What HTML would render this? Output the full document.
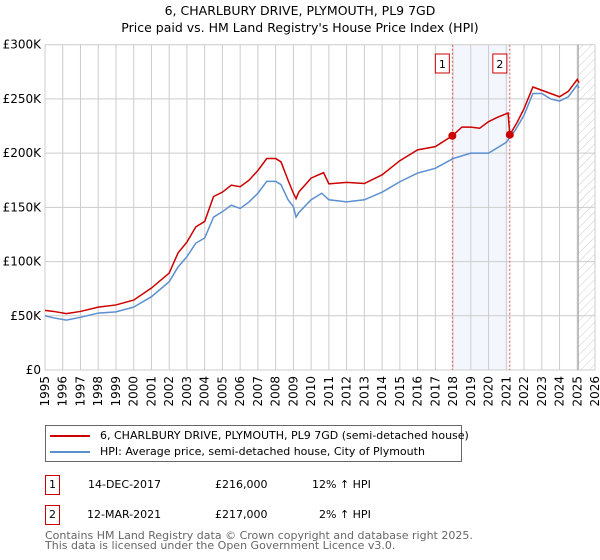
<!DOCTYPE html>
<html><head><meta charset="utf-8"><style>
body{margin:0;background:#fff;font-family:"DejaVu Sans","Liberation Sans",sans-serif;}
#wrap{position:relative;width:600px;height:560px;overflow:hidden;}
</style></head><body>
<div id="wrap">
<svg id="chart" width="600" height="560" style="position:absolute;left:0;top:0;font-family:'DejaVu Sans','Liberation Sans',sans-serif">
<defs><pattern id="hatch" width="6" height="6" patternUnits="userSpaceOnUse" patternTransform="rotate(45)"><line x1="0" y1="0" x2="0" y2="6" stroke="#ccc" stroke-width="1"/></pattern></defs>
<text x="300" y="15" text-anchor="middle" font-size="12.5" fill="#000">6, CHARLBURY DRIVE, PLYMOUTH, PL9 7GD</text>
<text x="300" y="32" text-anchor="middle" font-size="12.5" fill="#000">Price paid vs. HM Land Registry's House Price Index (HPI)</text>
<g id="grid"></g><g id="series"></g><g id="axes"></g>
</svg>
<div style="position:absolute;left:45px;top:425px;width:415px;height:35px;border:1px solid #666;font-size:11px;">
 <div style="position:absolute;left:4px;top:3px;white-space:nowrap"><span style="display:inline-block;width:40px;height:2px;background:#cc0000;vertical-align:middle;margin-right:10px"></span>6, CHARLBURY DRIVE, PLYMOUTH, PL9 7GD (semi-detached house)</div>
 <div style="position:absolute;left:4px;top:19px;white-space:nowrap"><span style="display:inline-block;width:40px;height:2px;background:#5b8fd0;vertical-align:middle;margin-right:10px"></span>HPI: Average price, semi-detached house, City of Plymouth</div>
</div>
<div style="position:absolute;left:0;top:475px;font-size:11px;width:600px;height:20px">
 <div style="position:absolute;left:45px;top:0;width:13px;height:18px;border:1px solid #cc0000;text-align:center;line-height:18px">1</div>
 <span style="position:absolute;left:88px;top:3px">14-DEC-2017</span>
 <span style="position:absolute;left:215px;top:3px">£216,000</span>
 <span style="position:absolute;left:312px;top:3px">12% ↑ HPI</span>
</div>
<div style="position:absolute;left:0;top:505px;font-size:11px;width:600px;height:20px">
 <div style="position:absolute;left:45px;top:0;width:13px;height:18px;border:1px solid #cc0000;text-align:center;line-height:18px">2</div>
 <span style="position:absolute;left:87px;top:3px">12-MAR-2021</span>
 <span style="position:absolute;left:215px;top:3px">£217,000</span>
 <span style="position:absolute;left:319px;top:3px">2% ↑ HPI</span>
</div>
<div style="position:absolute;left:45px;top:531px;font-size:11px;color:#666;line-height:10px">Contains HM Land Registry data © Crown copyright and database right 2025.<br>This data is licensed under the Open Government Licence v3.0.</div>
</div>
<script>
const years=[1995,1995.5,1996.2,1997,1998,1999,2000,2001,2002,2002.5,2003,2003.5,2004,2004.5,2005,2005.5,2006,2006.5,2007,2007.5,2008,2008.3,2008.7,2009,2009.15,2009.3,2010,2010.6,2011,2012,2013,2014,2015,2016,2017,2018,2019,2020,2020.5,2021,2021.5,2022,2022.5,2023,2023.5,2024,2024.5,2025,2025.1];
const hpiValues=[50,48,46,48.6,52.5,53.6,58,67.6,81.4,95,104.5,117,121.7,141,146,152,149,155,163,174,174,171,157,150.6,141,145,157,163,157,155,157,164,173.6,181.6,186,195,200,200,205,210,221,235,255,255,250,248,252,263,260];
const redYears=[1995,1995.5,1996.2,1997,1998,1999,2000,2001,2002,2002.5,2003,2003.5,2004,2004.5,2005,2005.5,2006,2006.5,2007,2007.5,2008,2008.3,2008.7,2009,2009.15,2009.3,2010,2010.7,2011,2012,2013,2014,2015,2016,2017,2017.96,2018.5,2019,2019.5,2020,2020.5,2021.1,2021.2,2021.6,2022,2022.5,2023,2023.5,2024,2024.5,2025,2025.1];
const redValues=[55,54,52,54,58,60,64.5,75.6,89.4,108,118,132,137,160,164,170.5,169,175,184,195,195,192,175,163,158,164,177,182,171.7,173,172,180,193,203,206,216,224,224,223,229,233,237,217,228,241,261,258,255,252,257,268,265];
const sales=[{n:'1',year:2017.96,value:216},{n:'2',year:2021.2,value:217}];
const yTicks=[0,50,100,150,200,250,300];
const yTickLabels=['£0','£50K','£100K','£150K','£200K','£250K','£300K'];
const xTicks=[1995,1996,1997,1998,1999,2000,2001,2002,2003,2004,2005,2006,2007,2008,2009,2010,2011,2012,2013,2014,2015,2016,2017,2018,2019,2020,2021,2022,2023,2024,2025,2026];
const NS='http://www.w3.org/2000/svg';
const L=45,R=595,T=44.7,B=370;
const x=v=>L+(v-1995)/(2026-1995)*(R-L);
const y=v=>B-v/300*(B-T);
function mk(parent,tag,attrs){const e=document.createElementNS(NS,tag);for(const k in attrs)e.setAttribute(k,attrs[k]);parent.appendChild(e);return e;}
const grid=document.getElementById('grid'),ser=document.getElementById('series'),ax=document.getElementById('axes');
const band=mk(grid,'rect',{x:x(sales[0].year),y:T,width:x(sales[1].year)-x(sales[0].year),height:B-T,fill:'#f3f7fd'});


const hat=mk(grid,'rect',{x:x(2025.05),y:T,width:R-x(2025.05),height:B-T,fill:'url(#hatch)'});


xTicks.forEach(t=>{const l=mk(grid,'line',{x1:x(t),x2:x(t),y1:T,y2:B,stroke:'#ccc','stroke-width':1});


const tx=mk(ax,'text',{x:0,y:0,'font-size':12,fill:'#000','text-anchor':'end',transform:`translate(${x(t)+4},${B+6}) rotate(-90)`});tx.textContent=t;

});
yTicks.forEach((t,i)=>{const l=mk(grid,'line',{x1:L,x2:R,y1:y(t),y2:y(t),stroke:'#ccc','stroke-width':1});


const tx=mk(ax,'text',{x:L-4,y:y(t)+4,'font-size':12,fill:'#000','text-anchor':'end'});tx.textContent=yTickLabels[i];

});
const endLine=mk(grid,'line',{x1:x(2025.05),x2:x(2025.05),y1:T,y2:B,stroke:'#999','stroke-width':1});


sales.forEach(s=>{const l=mk(grid,'line',{x1:x(s.year),x2:x(s.year),y1:T,y2:B,stroke:'#ee5555','stroke-width':1,'stroke-dasharray':'2,2'});


const g=mk(ax,'g',{});


mk(g,'rect',{x:x(s.year)-17,y:54,width:14,height:19,fill:'#fff',stroke:'#cc0000'});
const t=mk(g,'text',{x:x(s.year)-10,y:68,'font-size':11,'text-anchor':'middle'});t.textContent=s.n;});
const hp=mk(ser,'polyline',{points:years.map((v,i)=>x(v)+','+y(hpiValues[i])).join(' '),fill:'none',stroke:'#5b8fd0','stroke-width':1.5});


const rp=mk(ser,'polyline',{points:redYears.map((v,i)=>x(v)+','+y(redValues[i])).join(' '),fill:'none',stroke:'#cc0000','stroke-width':1.5});


sales.forEach(s=>{const c=mk(ser,'circle',{cx:x(s.year),cy:y(s.value),r:4,fill:'#cc0000'});

});
</script>
</body></html>
